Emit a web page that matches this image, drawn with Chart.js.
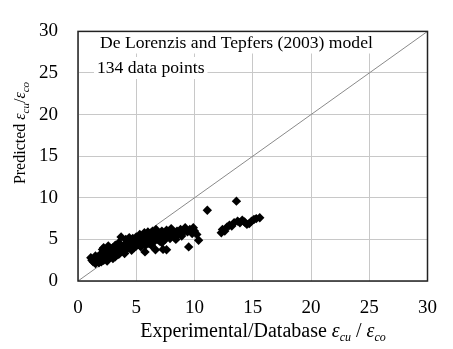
<!DOCTYPE html>
<html>
<head>
<meta charset="utf-8">
<script src="https://cdn.jsdelivr.net/npm/chart.js@4.4.1/dist/chart.umd.min.js"></script>
<style>
  html, body { margin: 0; padding: 0; background: #fff; }
  #wrap { width: 453px; height: 349px; }
</style>
</head>
<body>
<div id="wrap"><canvas id="chart" width="453" height="349"></canvas></div>
<script>
// === Data ===
const experimental = [
  1.1, 1.2, 1.3, 1.4, 1.5, 1.6, 1.7, 1.8, 1.9, 2.0, 2.0, 2.1, 2.2, 2.2, 2.3, 2.4, 2.5, 2.5, 2.6, 2.7, 2.8, 2.9, 3.0, 3.0,
  3.1, 3.2, 3.3, 3.4, 3.5, 3.6, 3.7, 3.8, 3.9, 4.0, 4.1, 4.2, 4.3, 4.4, 4.5, 4.6, 4.7, 4.8, 4.9, 5.0, 5.0, 4.2, 3.5, 4.6,
  5.1, 5.2, 5.3, 5.4, 5.5, 5.6, 5.7, 5.75, 5.8, 5.9, 6.0, 6.1, 6.2, 6.3, 6.4, 6.5, 6.6, 6.65, 6.7, 6.8, 6.9, 7.0, 7.1, 7.2, 7.3, 7.4, 7.5, 7.6, 7.6, 7.7, 7.8, 7.9, 8.0,
  8.1, 8.2, 8.3, 8.5, 8.6, 8.8, 9.0, 9.2, 9.4, 9.5, 9.6, 9.8, 9.9, 10.0, 10.35,
  11.1, 12.3, 12.4, 12.6, 12.8, 13.0, 13.2, 13.4, 13.6, 13.7, 13.9, 14.1, 14.3, 14.5, 14.7, 14.9, 15.1, 15.3, 15.6,
  1.5, 2.3, 2.8, 3.2, 3.6, 4.0, 4.4, 4.8, 5.3, 5.6, 6.0, 6.3, 6.8, 7.2, 7.5, 8.4, 8.9, 9.3, 10.2
];
const predicted = [
  2.8, 2.5, 2.3, 2.7, 2.1, 2.4, 2.9, 2.2, 2.6, 2.3, 3.3, 3.8, 2.5, 4.0, 2.8, 3.5, 2.4, 3.0, 4.2, 3.6, 2.9, 3.3, 4.0, 2.7,
  3.5, 4.3, 3.1, 3.8, 4.6, 3.4, 5.3, 4.0, 3.6, 4.4, 5.0, 3.8, 4.2, 4.7, 3.9, 4.4, 5.1, 4.0, 4.6, 4.2, 5.3, 4.9, 3.2, 3.7,
  4.8, 4.4, 5.6, 4.1, 5.0, 4.6, 5.8, 3.5, 4.3, 5.2, 4.9, 4.5, 5.6, 5.0, 6.0, 4.7, 5.4, 3.75, 6.2, 5.0, 5.7, 4.8, 5.3, 6.0, 3.8, 5.5, 5.0, 3.75, 6.1, 5.4, 5.8, 5.1, 6.3,
  5.5, 5.9, 5.3, 6.0, 5.6, 6.2, 5.8, 6.4, 5.9, 4.1, 6.2, 5.7, 6.4, 6.0, 4.9,
  8.5, 5.8, 6.2, 6.0, 6.5, 6.7, 6.6, 7.0, 9.6, 7.2, 7.0, 7.3, 7.1, 6.8, 6.9, 7.2, 7.4, 7.5, 7.6,
  3.0, 3.1, 3.9, 2.9, 4.1, 3.3, 5.2, 4.9, 4.7, 5.3, 5.9, 4.3, 5.9, 4.6, 5.8, 5.0, 5.4, 6.1, 5.6
];
const equalityLine = [0, 30];
const axisTicks = [0, 5, 10, 15, 20, 25, 30];
const noteLines = ["De Lorenzis and Tepfers (2003) model", "134 data points"];

const serif = '"Liberation Serif", "DejaVu Serif", serif';

// === Custom drawing: frame, note box, axis titles with subscripts ===
function drawSubTitle(ctx, parts, x, y, big, small) {
  // parts: [text, italic, sub]
  const fontOf = p => (p[1] ? "italic " : "") + (p[2] ? small : big) + "px " + serif;
  let width = 0;
  parts.forEach(p => {
    ctx.font = fontOf(p);
    width += ctx.measureText(p[0]).width;
  });
  let cx = x - width / 2;
  parts.forEach(p => {
    ctx.font = fontOf(p);
    ctx.fillText(p[0], cx, p[2] ? y + big * 0.22 : y);
    cx += ctx.measureText(p[0]).width;
  });
}

const decorPlugin = {
  id: "decor",
  beforeDatasetsDraw(chart) {
    const { ctx } = chart;
    ctx.save();
    ctx.font = "17.6px " + serif;
    ctx.textBaseline = "alphabetic";
    const pos = [[100, 47.5], [97, 73]];
    noteLines.forEach((t, i) => {
      const w = ctx.measureText(t).width;
      ctx.fillStyle = "#fff";
      ctx.fillRect(pos[i][0] - 3, pos[i][1] - 16, w + 6, 22);
      ctx.fillStyle = "#000";
      ctx.fillText(t, pos[i][0], pos[i][1]);
    });
    ctx.restore();
  },
  afterDraw(chart) {
    const { ctx, chartArea: a } = chart;
    ctx.save();
    ctx.strokeStyle = "#222";
    ctx.lineWidth = 1.5;
    ctx.strokeRect(a.left, a.top, a.right - a.left, a.bottom - a.top);
    ctx.fillStyle = "#000";
    ctx.textBaseline = "alphabetic";
    drawSubTitle(ctx, [["Experimental/Database ", false, false], ["\u03b5", true, false], ["cu", true, true],
      [" / ", false, false], ["\u03b5", true, false], ["co", true, true]], 263, 337, 20, 12);
    ctx.translate(25, 133);
    ctx.rotate(-Math.PI / 2);
    drawSubTitle(ctx, [["Predicted ", false, false], ["\u03b5", true, false], ["cu", true, true],
      ["/", false, false], ["\u03b5", true, false], ["co", true, true]], 0, 0, 16, 11);
    ctx.restore();
  }
};

const points = experimental.map((x, i) => ({ x: x, y: predicted[i] }));

new Chart(document.getElementById("chart"), {
  type: "scatter",
  data: {
    datasets: [
      {
        label: "Equality",
        data: equalityLine.map(v => ({ x: v, y: v })),
        showLine: true,
        borderColor: "#8a8a8a",
        borderWidth: 1,
        pointRadius: 0,
        order: 2
      },
      {
        label: "Data",
        data: points,
        pointStyle: "rectRot",
        pointRadius: 4.7,
        backgroundColor: "#000",
        borderColor: "#000",
        borderWidth: 0,
        order: 1
      }
    ]
  },
  options: {
    responsive: false,
    animation: false,
    layout: { padding: { left: 0, right: 10, top: 17, bottom: 0 } },
    plugins: { legend: { display: false }, tooltip: { enabled: false } },
    scales: {
      x: {
        type: "linear", min: 0, max: 30,
        afterBuildTicks: s => { s.ticks = axisTicks.map(v => ({ value: v })); },
        afterFit: s => { s.height = 68; },
        grid: { color: "#c8c8c8", lineWidth: 1, drawTicks: false },
        border: { display: false },
        ticks: { padding: 16, color: "#000", font: { family: serif, size: 19 } }
      },
      y: {
        type: "linear", min: 0, max: 30,
        afterBuildTicks: s => { s.ticks = axisTicks.map(v => ({ value: v })); },
        afterFit: s => { s.width = 78; },
        grid: { color: "#c8c8c8", lineWidth: 1, drawTicks: false },
        border: { display: false },
        ticks: { padding: 20, color: "#000", font: { family: serif, size: 19 } }
      }
    }
  },
  plugins: [decorPlugin]
});
</script>
</body>
</html>
